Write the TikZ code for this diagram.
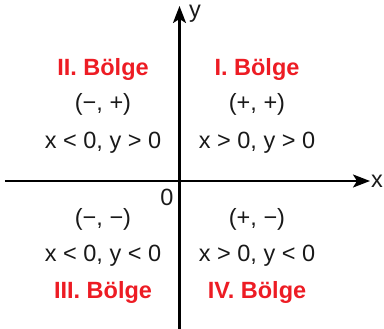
\documentclass[tikz,border=0pt]{standalone}
\usepackage{fontspec}
\setmainfont{Liberation Sans}
\usetikzlibrary{arrows.meta}
\definecolor{qred}{HTML}{ED1C24}
\tikzset{
  axis/.style={line width=2.2pt, -{Stealth[length=17pt,width=13pt,inset=4pt]}},
  lbl/.style={font=\fontsize{23.5}{27}\selectfont, text=black!90, inner sep=0pt},
  qname/.style={font=\fontsize{23.5}{27}\selectfont\bfseries, text=qred, inner sep=0pt}
}
\begin{document}
\begin{tikzpicture}[x=1pt,y=-1pt]
\useasboundingbox (0,0) rectangle (384,329);
\coordinate (xs) at (5,181);
\coordinate (xe) at (370,181);
\coordinate (ys) at (179.5,329);
\coordinate (ye) at (179.5,6);
\draw[axis] (xs) -- (xe);
\draw[axis] (ys) -- (ye);
\node[lbl, anchor=west] (xl) at (371,181) {x};
\node[lbl, anchor=west] (yl) at (189,14) {y};
\node[lbl] (o) at (167,197) {0};
\node[qname] (q2) at (103,69) {II. Bölge};
\node[lbl] (s2) at (103,104) {(−, +)};
\node[lbl] (c2) at (103,143) {x < 0, y > 0};
\node[qname] (q1) at (257,69) {I. Bölge};
\node[lbl] (s1) at (257,104) {(+, +)};
\node[lbl] (c1) at (257,143) {x > 0, y > 0};
\node[lbl] (s3) at (103,219) {(−, −)};
\node[lbl] (c3) at (103,256) {x < 0, y < 0};
\node[qname] (q3) at (103,292) {III. Bölge};
\node[lbl] (s4) at (257,219) {(+, −)};
\node[lbl] (c4) at (257,256) {x > 0, y < 0};
\node[qname] (q4) at (257,292) {IV. Bölge};
\end{tikzpicture}
\end{document}
